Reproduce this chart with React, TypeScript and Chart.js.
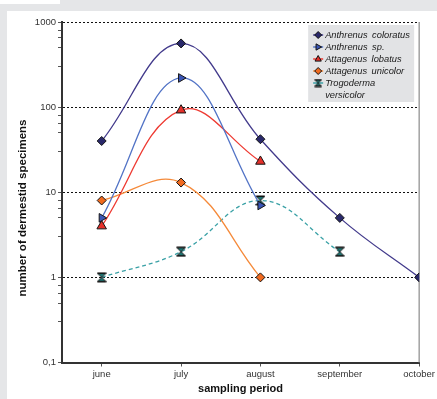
import React, { useEffect, useRef } from 'react';
import { Chart, registerables } from 'chart.js';

Chart.register(...registerables);

// ---- data ----
const months = ['june', 'july', 'august', 'september', 'october'];
const seriesNames = [
  'Anthrenus coloratus',
  'Anthrenus sp.',
  'Attagenus lobatus',
  'Attagenus unicolor',
  'Trogoderma versicolor',
];
const anthrenusColoratus = [40, 560, 42, 5, 1];
const anthrenusSp = [5, 220, 7, null, null];
const attagenusLobatus = [4, 92, 23, null, null];
const attagenusUnicolor = [8, 13, 1, null, null];
const trogodermaVersicolor = [1, 2, 8, 2, null];
const yMajorTicks = [0.1, 1, 10, 100, 1000];
const yMinorMultipliers = [3, 5, 6.5, 8];
const xTitle = 'sampling period';
const yTitle = 'number of dermestid specimens';

// ---- styles ----
const lineColors = ['#433b8c', '#5374c6', '#ee3a32', '#f58a3a', '#3aa1a6'];
const markerFills = ['#29286a', '#3a55b6', '#e5302a', '#f06a1f', '#1d7a78'];
const markerKinds = ['diamond', 'triRight', 'triUp', 'diamond', 'hourglass'];
const FONT = '"Liberation Sans", Arial, Helvetica, sans-serif';

function makeHourglass(fill: string, w: number, h: number) {
  const c = document.createElement('canvas');
  c.width = w;
  c.height = h;
  const g = c.getContext('2d')!;
  g.fillStyle = fill;
  g.strokeStyle = '#111';
  g.lineWidth = 1;
  g.beginPath();
  g.moveTo(1, 1.5);
  g.lineTo(w - 1, 1.5);
  g.lineTo(1, h - 1.5);
  g.lineTo(w - 1, h - 1.5);
  g.closePath();
  g.fill();
  g.stroke();
  g.fillStyle = '#111';
  g.fillRect(0.5, 0.5, w - 1, 1.6);
  g.fillRect(0.5, h - 2.1, w - 1, 1.6);
  return c;
}

function drawMarker(ctx: CanvasRenderingContext2D, kind: string, x: number, y: number, r: number, fill: string, img?: HTMLCanvasElement) {
  if (kind === 'hourglass' && img) {
    ctx.drawImage(img, x - img.width / 2, y - img.height / 2);
    return;
  }
  ctx.save();
  ctx.fillStyle = fill;
  ctx.strokeStyle = '#111';
  ctx.lineWidth = 1;
  ctx.beginPath();
  if (kind === 'diamond') {
    ctx.moveTo(x, y - r);
    ctx.lineTo(x + r, y);
    ctx.lineTo(x, y + r);
    ctx.lineTo(x - r, y);
  } else if (kind === 'triUp') {
    ctx.moveTo(x, y - r);
    ctx.lineTo(x + r * 0.9, y + r * 0.6);
    ctx.lineTo(x - r * 0.9, y + r * 0.6);
  } else if (kind === 'triRight') {
    ctx.moveTo(x + r, y);
    ctx.lineTo(x - r * 0.6, y + r * 0.9);
    ctx.lineTo(x - r * 0.6, y - r * 0.9);
  }
  ctx.closePath();
  ctx.fill();
  ctx.stroke();
  ctx.restore();
}

export default function App() {
  const ref = useRef<HTMLCanvasElement>(null);

  useEffect(() => {
    const canvas = ref.current!;
    const hg = makeHourglass(markerFills[4], 10, 11);
    const hgSmall = makeHourglass(markerFills[4], 8, 9);
    const allSeries = [anthrenusColoratus, anthrenusSp, attagenusLobatus, attagenusUnicolor, trogodermaVersicolor];

    const toPoints = (vals: (number | null)[]) =>
      vals
        .map((v, i) => (v == null ? null : { x: i + 1, y: v }))
        .filter((p) => p !== null) as { x: number; y: number }[];

    const pointStyles: any[] = ['rectRot', 'triangle', 'triangle', 'rectRot', hg];
    const pointRot = [0, 90, 0, 0, 0];
    const pointRad = [4.5, 5, 5.5, 4.5, 5];

    const datasets = allSeries.map((vals, i) => ({
      label: seriesNames[i],
      data: toPoints(vals),
      borderColor: lineColors[i],
      backgroundColor: markerFills[i],
      borderWidth: 1.3,
      borderDash: i === 4 ? [4, 3] : [],
      tension: 0.4,
      pointStyle: pointStyles[i],
      rotation: pointRot[i],
      pointRadius: pointRad[i],
      pointBackgroundColor: markerFills[i],
      pointBorderColor: '#151515',
      pointBorderWidth: 1,
      fill: false,
    }));

    const yTicks: number[] = [];
    yMajorTicks.forEach((m, i) => {
      yTicks.push(m);
      if (i < yMajorTicks.length - 1) yMinorMultipliers.forEach((k) => yTicks.push(m * k));
    });
    const isMajor = (v: number) => yMajorTicks.some((m) => Math.abs(m - v) < 1e-9);

    const decorPlugin = {
      id: 'decor',
      beforeDatasetsDraw(chart: any) {
        const { ctx, chartArea: a } = chart;
        ctx.save();
        ctx.strokeStyle = '#8a8a8a';
        ctx.lineWidth = 1.2;
        ctx.beginPath();
        ctx.moveTo(a.right, a.top);
        ctx.lineTo(a.right, a.bottom);
        ctx.stroke();
        ctx.restore();
      },
      afterDraw(chart: any) {
        const { ctx, chartArea: a } = chart;
        ctx.save();
        // axis titles
        ctx.fillStyle = '#111';
        ctx.font = `bold 11px ${FONT}`;
        ctx.textAlign = 'center';
        ctx.textBaseline = 'alphabetic';
        ctx.fillText(xTitle, (a.left + a.right) / 2, 381);
        ctx.translate(16, 197);
        ctx.rotate(-Math.PI / 2);
        ctx.font = `bold 11.5px ${FONT}`;
        ctx.textBaseline = 'middle';
        ctx.fillText(yTitle, 0, 0);
        ctx.restore();

        // legend
        ctx.save();
        const lx = a.right - 111;
        const ly = a.top + 3;
        ctx.fillStyle = '#e2e3e5';
        ctx.fillRect(lx, ly, 106, 77);
        ctx.font = `italic 9.3px ${FONT}`;
        (ctx as any).wordSpacing = '2px';
        ctx.textAlign = 'left';
        ctx.textBaseline = 'middle';
        let y = ly + 10;
        seriesNames.forEach((name, i) => {
          const sx = lx + 5;
          ctx.strokeStyle = lineColors[i];
          ctx.lineWidth = 1.5;
          ctx.setLineDash([]);
          ctx.beginPath();
          ctx.moveTo(sx, y);
          ctx.lineTo(sx + 10, y);
          ctx.stroke();
          drawMarker(ctx, markerKinds[i], sx + 5, y, 3.5, markerFills[i], hgSmall);
          // wrap text
          const words = name.split(' ');
          const lines: string[] = [];
          let cur = '';
          words.forEach((w) => {
            const t = cur ? cur + ' ' + w : w;
            if (ctx.measureText(t).width > 86 && cur) {
              lines.push(cur);
              cur = w;
            } else cur = t;
          });
          lines.push(cur);
          ctx.fillStyle = '#1a1a1a';
          lines.forEach((ln) => {
            ctx.fillText(ln, lx + 17, y);
            y += 12;
          });
        });
        ctx.restore();
      },
    };

    const chart = new Chart(canvas, {
      type: 'line',
      data: { datasets: datasets as any },
      plugins: [decorPlugin],
      options: {
        animation: false,
        responsive: false,
        layout: { padding: { top: 11, right: 16, left: 0, bottom: 0 } },
        plugins: { legend: { display: false }, tooltip: { enabled: false } },
        scales: {
          x: {
            type: 'linear',
            min: 0.5,
            max: 5,
            afterBuildTicks: (s: any) => {
              s.ticks = months.map((_, i) => ({ value: i + 1 }));
            },
            afterFit: (s: any) => {
              s.height = 36.5;
            },
            ticks: {
              autoSkip: false,
              maxRotation: 0,
              padding: 2,
              color: '#333',
              font: { family: FONT, size: 9.5 },
              callback: (v: any) => months[Math.round(Number(v)) - 1] ?? '',
            },
            grid: {
              drawOnChartArea: false,
              drawTicks: true,
              tickLength: 4,
              tickColor: '#555',
              tickWidth: 1,
            },
            border: { display: true, color: '#333', width: 2 },
          },
          y: {
            type: 'logarithmic',
            min: 0.1,
            max: 1000,
            afterBuildTicks: (s: any) => {
              s.ticks = yTicks.map((v) => ({ value: v }));
            },
            afterFit: (s: any) => {
              s.width = 55;
            },
            ticks: {
              autoSkip: false,
              padding: 2,
              color: '#333',
              font: { family: FONT, size: 9.5 },
              callback: (v: any) => {
                const n = Number(v);
                if (!isMajor(n)) return '';
                return n === 0.1 ? '0,1' : String(Math.round(n));
              },
            },
            grid: {
              drawOnChartArea: true,
              drawTicks: true,
              tickLength: 4,
              tickWidth: 1,
              tickColor: '#555',
              lineWidth: 1,
              color: (c: any) => (c.tick && isMajor(c.tick.value) ? '#111' : 'rgba(0,0,0,0)'),
            },
            border: { display: true, color: '#333', width: 2, dash: [2, 2] },
          },
        },
      },
    });
    return () => chart.destroy();
  }, []);

  return (
    <div style={{ position: 'fixed', left: 0, top: 0, width: 437, height: 399, background: '#e5e6e8', overflow: 'hidden' }}>
      <div style={{ position: 'absolute', left: 0, top: 0, width: 60, height: 4, background: '#fff' }} />
      <div style={{ position: 'absolute', left: 7, top: 11, width: 430, height: 388, background: '#fff' }}>
        <canvas ref={ref} width={430} height={388} style={{ display: 'block', width: 430, height: 388 }} />
      </div>
    </div>
  );
}
